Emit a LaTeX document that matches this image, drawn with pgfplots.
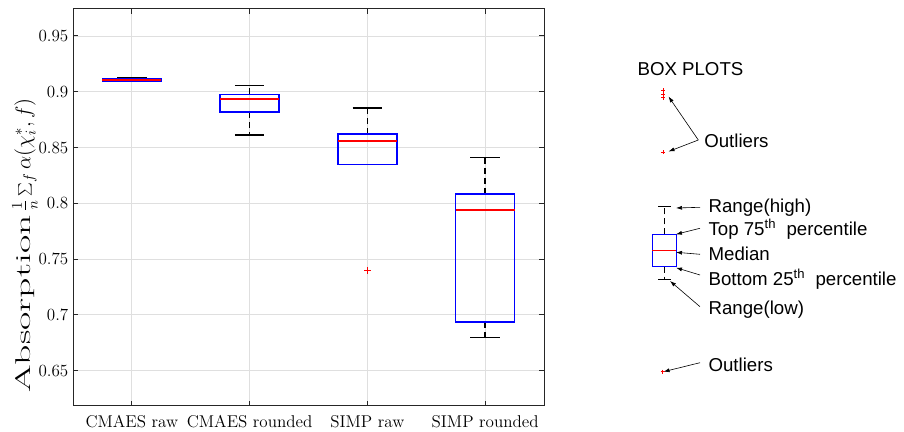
\documentclass[border=0pt]{standalone}
\usepackage{fix-cm}
\usepackage{graphicx}
\usepackage{pgfplots}
\pgfplotsset{compat=1.18}
\usepgfplotslibrary{statistics}
\usetikzlibrary{arrows.meta}
\usepackage{fontspec}
\newfontfamily\arialfont{Liberation Sans}
\definecolor{mblue}{RGB}{0,0,255}
\definecolor{mred}{RGB}{255,0,0}
\definecolor{gridgray}{RGB}{223,223,223}
\definecolor{axgray}{RGB}{38,38,38}

\pgfplotsset{
  whisk/.style={
    boxplot/draw direction=y,
    boxplot/draw/box/.code={},
    boxplot/draw/median/.code={},
    boxplot/draw/lower whisker/.code={%
      \draw[black, line width=#1, dash pattern=on 4.5pt off 3pt]
        (boxplot box cs:\pgfplotsboxplotvalue{lower quartile},0.5) --
        (boxplot box cs:\pgfplotsboxplotvalue{lower whisker},0.5);
      \draw[black, line width=#1]
        (boxplot whisker cs:\pgfplotsboxplotvalue{lower whisker},0) --
        (boxplot whisker cs:\pgfplotsboxplotvalue{lower whisker},1);
    },
    boxplot/draw/upper whisker/.code={%
      \draw[black, line width=#1, dash pattern=on 4.5pt off 3pt]
        (boxplot box cs:\pgfplotsboxplotvalue{upper quartile},0.5) --
        (boxplot box cs:\pgfplotsboxplotvalue{upper whisker},0.5);
      \draw[black, line width=#1]
        (boxplot whisker cs:\pgfplotsboxplotvalue{upper whisker},0) --
        (boxplot whisker cs:\pgfplotsboxplotvalue{upper whisker},1);
    },
    mark=+, mark size=2.5pt, mark options={mred, solid, line width=0.7pt},
  },
  boxonly/.style={
    boxplot/draw direction=y,
    boxplot/draw/lower whisker/.code={},
    boxplot/draw/upper whisker/.code={},
    boxplot/every box/.style={draw=mblue, line width=#1},
    boxplot/every median/.style={draw=mred, line width=#1},
    mark=none,
  },
}

\begin{document}
\begin{tikzpicture}
\path[use as bounding box] (0,0) rectangle (678pt,324pt);

\begin{axis}[
  at={(54.75pt,19.5pt)}, anchor=south west,
  scale only axis, width=353.25pt, height=297.75pt,
  xmin=0.5, xmax=4.5, ymin=0.6183, ymax=0.9742,
  xtick={1,2,3,4},
  xticklabels={CMAES raw, CMAES rounded, SIMP raw, SIMP rounded},
  ytick={0.65,0.7,0.75,0.8,0.85,0.9,0.95},
  grid=major, major grid style={draw=gridgray, line width=0.7pt},
  axis line style={draw=axgray, line width=0.75pt},
  tick style={draw=axgray, line width=0.75pt},
  major tick length=3.75pt,
  tick align=inside,
  ticklabel style={font=\fontsize{12.8}{14}\selectfont, text=black},
  xticklabel style={yshift=-3.5pt},
  ylabel={\resizebox{133pt}{\height}{Absorption}\hspace{3pt}\resizebox{85pt}{\height}{$\frac{1}{n}\sum_f \alpha(\chi_i^*, f)$}},
  ylabel style={font=\fontsize{16}{18}\selectfont, at={(axis description cs:-0.0906,0.0327)}, anchor=base west, inner sep=0pt},
]
% whiskers (drawn first, beneath boxes)
\addplot[whisk=1.1pt, boxplot prepared={draw position=1, box extend=0.5, whisker extend=0.25,
  lower whisker=0.9090, lower quartile=0.9096, median=0.9105, upper quartile=0.9113, upper whisker=0.9125}] coordinates {};
\addplot[whisk=1.1pt, boxplot prepared={draw position=2, box extend=0.5, whisker extend=0.25,
  lower whisker=0.8611, lower quartile=0.8817, median=0.8934, upper quartile=0.8976, upper whisker=0.9057}] coordinates {};
\addplot[whisk=1.1pt, boxplot prepared={draw position=3, box extend=0.5, whisker extend=0.25,
  lower whisker=0.8347, lower quartile=0.8347, median=0.8557, upper quartile=0.8623, upper whisker=0.8856}] coordinates {(0,0.7398)};
\addplot[whisk=1.1pt, boxplot prepared={draw position=4, box extend=0.5, whisker extend=0.25,
  lower whisker=0.6796, lower quartile=0.6934, median=0.7940, upper quartile=0.8084, upper whisker=0.8410}] coordinates {};
% boxes and medians
\addplot[boxonly=1.1pt, boxplot prepared={draw position=1, box extend=0.5, whisker extend=0.25,
  lower whisker=0.9090, lower quartile=0.9096, median=0.9105, upper quartile=0.9113, upper whisker=0.9125}] coordinates {};
\addplot[boxonly=1.1pt, boxplot prepared={draw position=2, box extend=0.5, whisker extend=0.25,
  lower whisker=0.8611, lower quartile=0.8817, median=0.8934, upper quartile=0.8976, upper whisker=0.9057}] coordinates {};
\addplot[boxonly=1.1pt, boxplot prepared={draw position=3, box extend=0.5, whisker extend=0.25,
  lower whisker=0.8347, lower quartile=0.8347, median=0.8557, upper quartile=0.8623, upper whisker=0.8856}] coordinates {};
\addplot[boxonly=1.1pt, boxplot prepared={draw position=4, box extend=0.5, whisker extend=0.25,
  lower whisker=0.6796, lower quartile=0.6934, median=0.7940, upper quartile=0.8084, upper whisker=0.8410}] coordinates {};
\end{axis}

\begin{axis}[
  at={(450pt,0pt)}, anchor=south west,
  scale only axis, width=228pt, height=324pt,
  xmin=600, xmax=904, ymin=0, ymax=432, y dir=reverse,
  hide axis, clip=false,
]
\addplot[whisk=0.8pt, boxplot prepared={draw position=664.3, box extend=24.3, whisker extend=12.4,
  lower whisker=206.7, lower quartile=234.3, median=250.3, upper quartile=266.7, upper whisker=279.3}] coordinates {};
\addplot[boxonly=0.9pt, boxplot prepared={draw position=664.3, box extend=24.3, whisker extend=12.4,
  lower whisker=206.7, lower quartile=234.3, median=250.3, upper quartile=266.7, upper whisker=279.3}] coordinates {};
\addplot[only marks, mark=+, mark size=1.6pt, mark options={mred, line width=0.6pt}]
  coordinates {(663.3,90.5) (663.3,94) (663.3,97.5) (663.3,152.3) (662.7,371.7)};

\begin{scope}[every node/.style={anchor=base west, inner sep=0pt, font=\fontsize{14}{16}\arialfont}]
\node at (axis cs:637.3,76) {BOX PLOTS};
\node at (axis cs:704,147.7) {Outliers};
\node at (axis cs:708.3,212.3) {Range(high)};
\node at (axis cs:708.3,235.7) {Top 75\textsuperscript{th}\ \ percentile};
\node at (axis cs:708.3,260) {Median};
\node at (axis cs:708.3,285) {Bottom 25\textsuperscript{th}\ \ percentile};
\node at (axis cs:708.3,314) {Range(low)};
\node at (axis cs:708.3,371.7) {Outliers};
\end{scope}

\begin{scope}[black, line width=0.45pt, -{Latex[length=4.5pt, width=3pt]}]
\draw (axis cs:698.3,140) -- (axis cs:668.5,96.5);
\draw (axis cs:698.3,140) -- (axis cs:668.5,151.5);
\draw (axis cs:700,207.3) -- (axis cs:676,208);
\draw (axis cs:700,228.3) -- (axis cs:676,234.3);
\draw (axis cs:700,254.3) -- (axis cs:676,252.3);
\draw (axis cs:700,275) -- (axis cs:676,267.7);
\draw (axis cs:700,306.7) -- (axis cs:670,281);
\draw (axis cs:700,362.7) -- (axis cs:663.5,371.7);
\end{scope}
\end{axis}
\end{tikzpicture}
\end{document}
